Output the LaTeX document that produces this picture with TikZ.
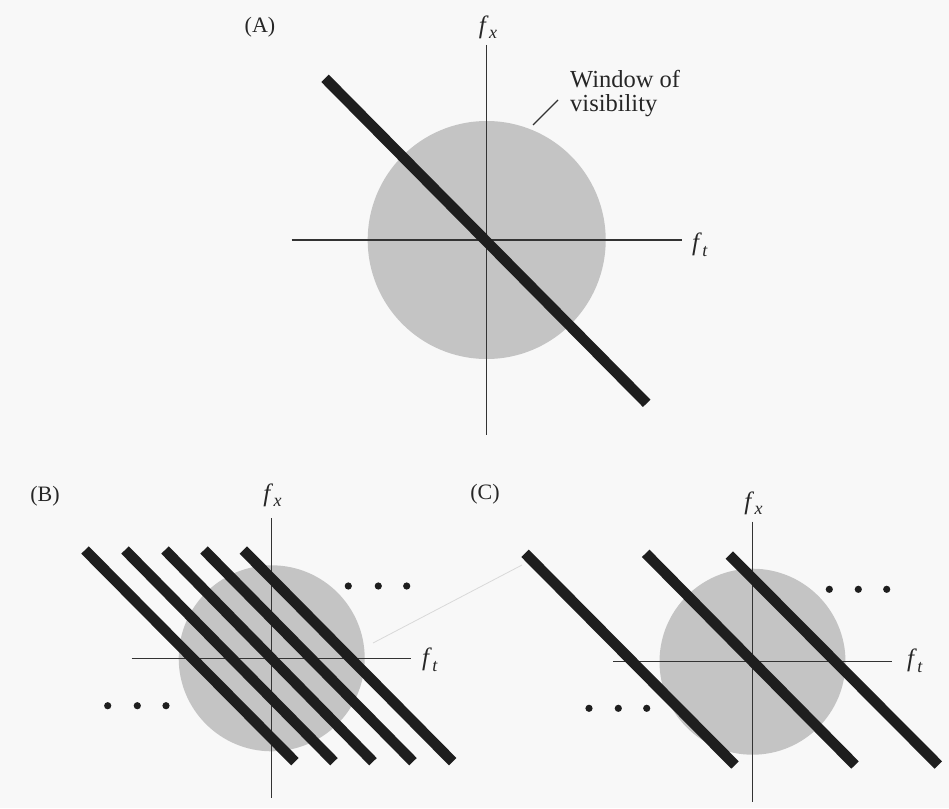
\documentclass[tikz,border=0pt]{standalone}
\usepackage{fontspec}
\setmainfont{Liberation Serif}
\usetikzlibrary{calc}
\definecolor{bgc}{HTML}{F8F8F8}
\definecolor{discc}{HTML}{C4C4C4}
\definecolor{barc}{HTML}{1E1E1E}
\definecolor{axc}{HTML}{333333}
\newcommand{\fsub}[1]{\textit{f}\kern0.5pt\raisebox{-0.22em}{\fontsize{18}{18}\selectfont\textit{#1}}}
\tikzset{
  axisline/.style={draw=axc, line width=1.3pt},
  bar/.style={draw=barc, line width=10.5pt},
  disc/.style={fill=discc, draw=none},
  dotmark/.style={fill=barc, draw=none},
  lbl/.style={inner sep=0pt, text=black!85, font=\fontsize{22}{24}\selectfont},
  axlbl/.style={inner sep=0pt, text=black!85, font=\fontsize{25}{26}\selectfont},
  wintext/.style={inner sep=0pt, text=black!85, font=\fontsize{24.5}{25}\selectfont, anchor=base west},
  faint/.style={draw=gray!30, line width=0.8pt}
}
\begin{document}
\begin{tikzpicture}[x=1pt,y=-1pt]
\fill[bgc] (0,0) rectangle (949,808);
\useasboundingbox (0,0) rectangle (949,808);

% ---------- Panel A ----------
\coordinate (Ao) at (486.7,240);
\fill[disc] (Ao) circle (119);
\coordinate (Avt) at (486.7,45);
\coordinate (Avb) at (486.7,435);
\coordinate (Ahl) at (291.7,240);
\coordinate (Ahr) at (681.7,240);
\draw[axisline] (Avt) -- (Avb);
\draw[axisline] (Ahl) -- (Ahr);
\coordinate (Abs) at (325,78.3);
\coordinate (Abe) at (646.7,403.3);
\draw[bar] (Abs) -- (Abe);
\node[lbl] (labA) at (260,27) {(A)};
\node[axlbl] (Afx) at (488,27) {\fsub{x}};
\node[axlbl] (Aft) at (700,245) {\fsub{t}};
\node[wintext] (win1) at (570,87) {Window of};
\node[wintext] (win2) at (570,111) {visibility};
\coordinate (Lw1) at (533,125);
\coordinate (Lw2) at (558,100);
\draw[draw=axc, line width=1.1pt] (Lw1) -- (Lw2);

% ---------- Panel B ----------
\coordinate (Bo) at (271.7,658.3);
\fill[disc] (Bo) circle (93);
\coordinate (Bvt) at (271.7,518);
\coordinate (Bvb) at (271.7,798);
\coordinate (Bhl) at (131.7,658.3);
\coordinate (Bhr) at (410.7,658.3);
\draw[axisline] (Bvt) -- (Bvb);
\draw[axisline] (Bhl) -- (Bhr);
\foreach \s/\e [count=\i] in {85/295,125/334,165/373,204/413,243.3/452.7}{
  \coordinate (Bs\i) at (\s,550);
  \coordinate (Be\i) at (\e,761.7);
  \draw[bar] (Bs\i) -- (Be\i);
}
\foreach \x in {348.3,378.3,406.7}{
  \fill[dotmark] (\x,586) circle (3.6);
}
\foreach \x in {107.7,137.3,166}{
  \fill[dotmark] (\x,705.7) circle (3.6);
}
\node[lbl] (labB) at (45,496) {(B)};
\node[axlbl] (Bfx) at (272.5,495) {\fsub{x}};
\node[axlbl] (Bft) at (430,660) {\fsub{t}};

% faint scan line
\coordinate (F1) at (373,643);
\coordinate (F2) at (522,565);
\draw[faint] (F1) -- (F2);

% ---------- Panel C ----------
\coordinate (Co) at (752.5,661.7);
\fill[disc] (Co) circle (93);
\coordinate (Cvt) at (752.7,521.7);
\coordinate (Cvb) at (752.7,801.7);
\coordinate (Chl) at (613.3,661.7);
\coordinate (Chr) at (891.7,661.7);
\draw[axisline] (Cvt) -- (Cvb);
\draw[axisline] (Chl) -- (Chr);
\coordinate (Cs1) at (525,553.3);   \coordinate (Ce1) at (735,765);
\coordinate (Cs2) at (645.7,553.3); \coordinate (Ce2) at (855,765);
\coordinate (Cs3) at (729.3,555);   \coordinate (Ce3) at (938.3,765);
\draw[bar] (Cs1) -- (Ce1);
\draw[bar] (Cs2) -- (Ce2);
\draw[bar] (Cs3) -- (Ce3);
\foreach \x in {829.3,858.3,886.7}{
  \fill[dotmark] (\x,589.3) circle (3.6);
}
\foreach \x in {589,618.3,646.7}{
  \fill[dotmark] (\x,708.3) circle (3.6);
}
\node[lbl] (labC) at (485,494) {(C)};
\node[axlbl] (Cfx) at (753.5,503) {\fsub{x}};
\node[axlbl] (Cft) at (915,661) {\fsub{t}};
\end{tikzpicture}
\end{document}
